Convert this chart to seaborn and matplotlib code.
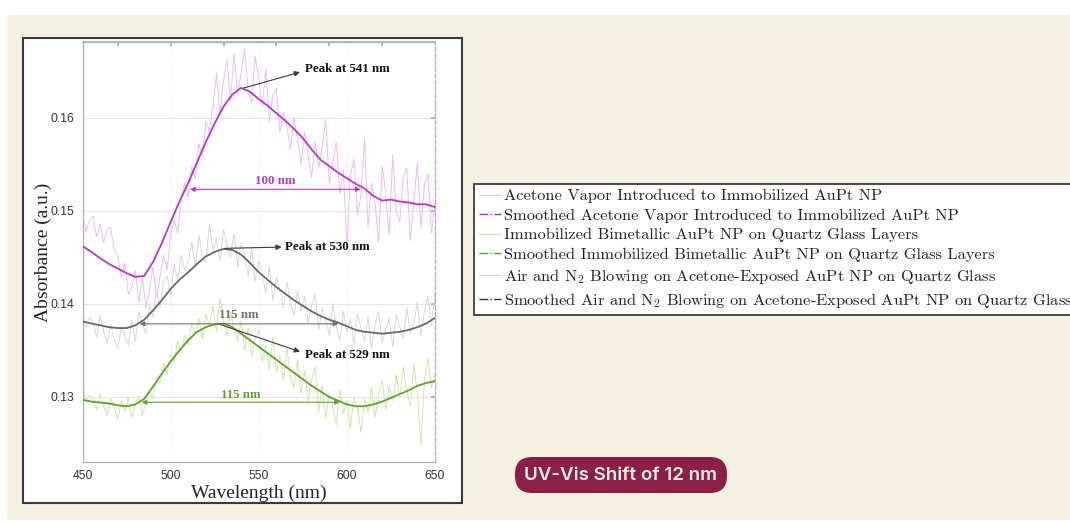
import numpy as np
import pandas as pd
import matplotlib
matplotlib.use("Agg")
import matplotlib.pyplot as plt
import seaborn as sns
from matplotlib.patches import Rectangle, FancyBboxPatch
from matplotlib.lines import Line2D
from matplotlib.transforms import IdentityTransform

# ---------------- data ----------------
wl_raw = list(range(450, 651, 2))
wl_smooth = list(range(450, 651, 5))

acetone_raw = [
    0.1496, 0.1478, 0.1490, 0.1494, 0.1472, 0.1486, 0.1466, 0.1480, 0.1482, 0.1458,
    0.1452, 0.1428, 0.1444, 0.1410, 0.1418, 0.1436, 0.1402, 0.1428, 0.1396, 0.1414,
    0.1440, 0.1408, 0.1430, 0.1452, 0.1436, 0.1474, 0.1490, 0.1476, 0.1512, 0.1530,
    0.1514, 0.1548, 0.1534, 0.1572, 0.1558, 0.1596, 0.1586, 0.1612, 0.1648, 0.1604,
    0.1640, 0.1662, 0.1618, 0.1670, 0.1626, 0.1648, 0.1674, 0.1630, 0.1616, 0.1666,
    0.1642, 0.1612, 0.1652, 0.1596, 0.1624, 0.1632, 0.1584, 0.1606, 0.1590, 0.1566,
    0.1600, 0.1576, 0.1550, 0.1584, 0.1560, 0.1536, 0.1574, 0.1546, 0.1568, 0.1598,
    0.1530, 0.1552, 0.1574, 0.1518, 0.1544, 0.1460, 0.1538, 0.1556, 0.1496, 0.1516,
    0.1578, 0.1482, 0.1530, 0.1508, 0.1466, 0.1548, 0.1520, 0.1474, 0.1560, 0.1500,
    0.1488, 0.1536, 0.1546, 0.1468, 0.1510, 0.1552, 0.1482, 0.1528, 0.1540, 0.1476,
    0.1508]

acetone_smooth = [
    0.1462, 0.1456, 0.1449, 0.1443, 0.1438, 0.1433, 0.1429, 0.1430, 0.1445, 0.1465,
    0.1488, 0.1510, 0.1530, 0.1552, 0.1574, 0.1594, 0.1612, 0.1625, 0.1632, 0.1628,
    0.1620, 0.1613, 0.1605, 0.1597, 0.1588, 0.1578, 0.1566, 0.1555, 0.1548, 0.1541,
    0.1535, 0.1529, 0.1524, 0.1516, 0.1511, 0.1512, 0.1510, 0.1509, 0.1507, 0.1507,
    0.1504]

bimetal_raw = [
    0.1314, 0.1294, 0.1302, 0.1298, 0.1286, 0.1304, 0.1290, 0.1280, 0.1298, 0.1288,
    0.1276, 0.1296, 0.1284, 0.1300, 0.1278, 0.1292, 0.1302, 0.1280, 0.1296, 0.1306,
    0.1298, 0.1322, 0.1314, 0.1336, 0.1324, 0.1346, 0.1338, 0.1360, 0.1348, 0.1366,
    0.1356, 0.1378, 0.1368, 0.1384, 0.1362, 0.1390, 0.1376, 0.1398, 0.1370, 0.1406,
    0.1384, 0.1366, 0.1392, 0.1372, 0.1360, 0.1382, 0.1350, 0.1374, 0.1344, 0.1362,
    0.1372, 0.1338, 0.1356, 0.1330, 0.1364, 0.1326, 0.1344, 0.1318, 0.1352, 0.1322,
    0.1310, 0.1340, 0.1304, 0.1328, 0.1296, 0.1318, 0.1332, 0.1284, 0.1312, 0.1276,
    0.1304, 0.1290, 0.1270, 0.1308, 0.1282, 0.1296, 0.1266, 0.1300, 0.1288, 0.1262,
    0.1298, 0.1284, 0.1310, 0.1278, 0.1302, 0.1318, 0.1286, 0.1312, 0.1296, 0.1324,
    0.1300, 0.1332, 0.1306, 0.1290, 0.1336, 0.1304, 0.1248, 0.1318, 0.1342, 0.1310,
    0.1324]

bimetal_smooth = [
    0.1297, 0.1295, 0.1294, 0.1293, 0.1291, 0.1290, 0.1292, 0.1298, 0.1311, 0.1325,
    0.1338, 0.1350, 0.1361, 0.1370, 0.1375, 0.1378, 0.1379, 0.1375, 0.1368, 0.1361,
    0.1354, 0.1347, 0.1340, 0.1333, 0.1326, 0.1319, 0.1312, 0.1306, 0.1300, 0.1296,
    0.1292, 0.1290, 0.1290, 0.1292, 0.1295, 0.1299, 0.1303, 0.1307, 0.1312, 0.1315,
    0.1317]

air_raw = [
    0.1392, 0.1374, 0.1386, 0.1380, 0.1364, 0.1388, 0.1370, 0.1358, 0.1378, 0.1362,
    0.1352, 0.1374, 0.1366, 0.1356, 0.1382, 0.1360, 0.1392, 0.1378, 0.1368, 0.1398,
    0.1386, 0.1414, 0.1396, 0.1424, 0.1430, 0.1408, 0.1442, 0.1426, 0.1452, 0.1436,
    0.1446, 0.1466, 0.1440, 0.1474, 0.1452, 0.1444, 0.1486, 0.1458, 0.1470, 0.1446,
    0.1480, 0.1462, 0.1450, 0.1476, 0.1440, 0.1466, 0.1452, 0.1430, 0.1460, 0.1424,
    0.1446, 0.1432, 0.1412, 0.1440, 0.1404, 0.1428, 0.1416, 0.1396, 0.1424, 0.1400,
    0.1388, 0.1414, 0.1392, 0.1408, 0.1380, 0.1398, 0.1410, 0.1372, 0.1396, 0.1384,
    0.1366, 0.1400, 0.1376, 0.1360, 0.1392, 0.1370, 0.1384, 0.1356, 0.1390, 0.1374,
    0.1360, 0.1386, 0.1352, 0.1378, 0.1392, 0.1358, 0.1372, 0.1384, 0.1354, 0.1388,
    0.1376, 0.1362, 0.1396, 0.1368, 0.1380, 0.1402, 0.1366, 0.1392, 0.1408, 0.1378,
    0.1412]

air_smooth = [
    0.1381, 0.1379, 0.1377, 0.1375, 0.1374, 0.1374, 0.1377, 0.1383, 0.1393, 0.1404,
    0.1416, 0.1426, 0.1434, 0.1443, 0.1451, 0.1456, 0.1459, 0.1458, 0.1453, 0.1444,
    0.1434, 0.1426, 0.1418, 0.1411, 0.1404, 0.1398, 0.1392, 0.1387, 0.1383, 0.1380,
    0.1376, 0.1372, 0.1370, 0.1369, 0.1368, 0.1369, 0.1370, 0.1372, 0.1375, 0.1379,
    0.1385]

legend_labels = [
    "Acetone Vapor Introduced to Immobilized AuPt NP",
    "Smoothed Acetone Vapor Introduced to Immobilized AuPt NP",
    "Immobilized Bimetallic AuPt NP on Quartz Glass Layers",
    "Smoothed Immobilized Bimetallic AuPt NP on Quartz Glass Layers",
    r"Air and N$_2$ Blowing on Acetone-Exposed AuPt NP on Quartz Glass",
    r"Smoothed Air and N$_2$ Blowing on Acetone-Exposed AuPt NP on Quartz Glass",
]
x_ticks = [450, 500, 550, 600, 650]
y_ticks = [0.13, 0.14, 0.15, 0.16]

# ---------------- styling ----------------
W, H = 1070, 523
sns.set_theme(style="white")
plt.rcParams["mathtext.fontset"] = "cm"
plt.rcParams["font.family"] = ["Liberation Sans", "DejaVu Sans"]

C_MAG, C_MAG_RAW = "#b536c9", "#e9bdf0"
C_GRN, C_GRN_RAW = "#5e9f2f", "#cfe6a8"
C_GRY, C_GRY_RAW = "#686868", "#d6d6d6"

fig = plt.figure(figsize=(W / 100, H / 100), dpi=100, facecolor="white")


def fig_rect(x0, y0, x1, y1, **kw):
    r = Rectangle((x0 / W, 1 - y1 / H), (x1 - x0) / W, (y1 - y0) / H,
                  transform=fig.transFigure, **kw)
    fig.add_artist(r)
    return r


fig_rect(7, 15, 1070, 520, facecolor="#f5f1e1", edgecolor="none", zorder=-20)
fig_rect(23, 38, 462, 503, facecolor="white", edgecolor="#3a3a3a", lw=1.5, zorder=-10)

ax_l, ax_r, ax_t, ax_b = 82.5, 435, 42, 462
ax = fig.add_axes([ax_l / W, 1 - ax_b / H, (ax_r - ax_l) / W, (ax_b - ax_t) / H])
ax.set_facecolor("white")

raw_df = pd.DataFrame({"wl": wl_raw, "a": acetone_raw, "b": bimetal_raw, "c": air_raw})
sm_df = pd.DataFrame({"wl": wl_smooth, "a": acetone_smooth, "b": bimetal_smooth, "c": air_smooth})

for col, c in [("a", C_MAG_RAW), ("c", C_GRY_RAW), ("b", C_GRN_RAW)]:
    sns.lineplot(data=raw_df, x="wl", y=col, ax=ax, color=c, lw=0.7, estimator=None, zorder=2)
for col, c in [("a", C_MAG), ("c", C_GRY), ("b", C_GRN)]:
    sns.lineplot(data=sm_df, x="wl", y=col, ax=ax, color=c, lw=1.3, estimator=None, zorder=3)

ax.set_xlim(450, 650)
ax.set_ylim(0.12301, 0.16814)
ax.set_xticks(x_ticks)
ax.set_yticks(y_ticks)
ax.set_yticklabels([f"{v:.2f}" for v in y_ticks])
ax.tick_params(direction="in", length=3, labelsize=8.8, color="#a8a8a8",
               labelcolor="#333333", top=False, right=True, pad=6)
ax.grid(True, color="#e6e6e6", lw=0.8)
for g in ax.get_xgridlines():
    g.set_linestyle(":")
for s in ax.spines.values():
    s.set_color("#b0b0b0")
    s.set_linewidth(0.9)
ax.spines["right"].set_linestyle("--")
ax.set_xlabel("Wavelength (nm)", family="Liberation Serif", fontsize=14, color="#222222", labelpad=2)
ax.set_ylabel("Absorbance (a.u.)", family="Liberation Serif", fontsize=14, color="#222222", labelpad=-1)

top = ax.secondary_xaxis("top")
top.set_xticks([470, 500, 530, 560, 590, 620])
top.tick_params(direction="in", length=3, labeltop=False, color="#a8a8a8")
top.spines["top"].set_color("#b0b0b0")

# ---------------- annotations ----------------
bold = dict(family="Liberation Serif", fontweight="bold", fontsize=9.3)
arr = dict(arrowstyle="-|>", color="#3a3a3a", lw=0.8, mutation_scale=8, shrinkA=0, shrinkB=0)

ax.annotate("", xy=(573.4, 0.1649), xytext=(541.5, 0.1632), arrowprops=arr)
ax.text(576.2, 0.1652, "Peak at 541 nm", va="center", ha="left", color="#111111", **bold)
ax.annotate("", xy=(563, 0.1461), xytext=(530.8, 0.14597), arrowprops=arr)
ax.text(564.8, 0.1461, "Peak at 530 nm", va="center", ha="left", color="#111111", **bold)
ax.annotate("", xy=(573.4, 0.13486), xytext=(528, 0.13779), arrowprops=arr)
ax.text(576, 0.13451, "Peak at 529 nm", va="center", ha="left", color="#111111", **bold)


def span(x0, x1, y, c, label, ytxt):
    ax.annotate("", xy=(x1, y), xytext=(x0, y),
                arrowprops=dict(arrowstyle="<|-|>", color=c, lw=0.8, mutation_scale=7,
                                shrinkA=0, shrinkB=0))
    ax.text((x0 + x1) / 2, ytxt, label, ha="center", va="center", color=c, **bold)


span(511, 607.8, 0.15231, C_MAG, "100 nm", 0.15323)
span(482.5, 595.1, 0.13785, "#6f6f6f", "115 nm", 0.13879)
span(483.5, 596, 0.12943, C_GRN, "115 nm", 0.13021)

# ---------------- legend ----------------
handles = [
    Line2D([], [], color=C_MAG_RAW, lw=0.9),
    Line2D([], [], color="#9a35cf", lw=1.0, ls="-."),
    Line2D([], [], color=C_GRN_RAW, lw=0.9),
    Line2D([], [], color=C_GRN, lw=1.0, ls="-."),
    Line2D([], [], color=C_GRY_RAW, lw=0.9),
    Line2D([], [], color="#333333", lw=1.0, ls="-."),
]
leg = fig.legend(handles, legend_labels, loc="upper left",
                 bbox_to_anchor=(474 / W, 1 - 184 / H), bbox_transform=fig.transFigure,
                 prop={"family": "cmr10", "size": 11.8}, frameon=True, fancybox=False,
                 framealpha=1, edgecolor="#3c3c3c", facecolor="white",
                 handlelength=1.35, handletextpad=0.2, labelspacing=0.31,
                 borderpad=0.3, borderaxespad=0)
leg.get_frame().set_linewidth(1.3)
for t in leg.get_texts():
    t.set_color("#222222")

# ---------------- badge ----------------
pill = FancyBboxPatch((515, H - 493), 212, 36, boxstyle="round,pad=0,rounding_size=17",
                      transform=IdentityTransform(), facecolor="#8b1f47", edgecolor="none",
                      zorder=10)
fig.add_artist(pill)
fig.text(621 / W, 1 - 475 / H, "UV-Vis Shift of 12 nm", ha="center", va="center",
         color="#f7f0e8", fontsize=13.5, fontweight="semibold", family=["Inter", "DejaVu Sans"],
         zorder=11)

fig.savefig("out.png", dpi=100, facecolor="white")
